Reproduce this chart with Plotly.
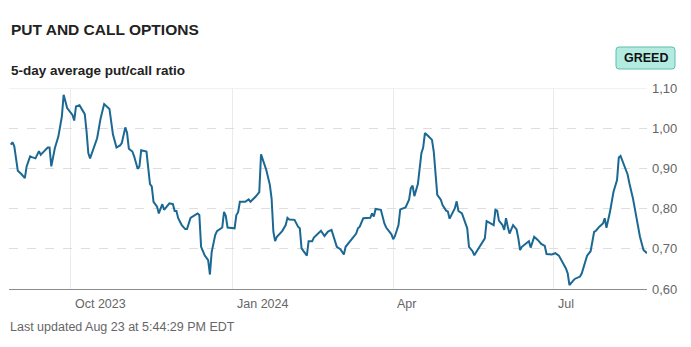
import plotly.graph_objects as go

# 5-day average put/call ratio, Aug 2023 - Aug 2024
dates = [
    "2023-08-28", "2023-08-29", "2023-08-30", "2023-09-01", "2023-09-03", "2023-09-05",
    "2023-09-06", "2023-09-08", "2023-09-09", "2023-09-11", "2023-09-13", "2023-09-14",
    "2023-09-16", "2023-09-18", "2023-09-19", "2023-09-20", "2023-09-22", "2023-09-24",
    "2023-09-26", "2023-09-27", "2023-09-29", "2023-10-02", "2023-10-03", "2023-10-04",
    "2023-10-06", "2023-10-09", "2023-10-10", "2023-10-11", "2023-10-12", "2023-10-16",
    "2023-10-18", "2023-10-20", "2023-10-23", "2023-10-25", "2023-10-27", "2023-10-29",
    "2023-10-30", "2023-11-01", "2023-11-02", "2023-11-03", "2023-11-05", "2023-11-06",
    "2023-11-08", "2023-11-09", "2023-11-10", "2023-11-13", "2023-11-15", "2023-11-16",
    "2023-11-17", "2023-11-19", "2023-11-20", "2023-11-22", "2023-11-23", "2023-11-26",
    "2023-11-28", "2023-11-29", "2023-11-30", "2023-12-01", "2023-12-03", "2023-12-05",
    "2023-12-06", "2023-12-08", "2023-12-12", "2023-12-13", "2023-12-14", "2023-12-16",
    "2023-12-18", "2023-12-19", "2023-12-20", "2023-12-22", "2023-12-23", "2023-12-26",
    "2023-12-27", "2023-12-28", "2023-12-29", "2024-01-02", "2024-01-03", "2024-01-04",
    "2024-01-05", "2024-01-08", "2024-01-10", "2024-01-11", "2024-01-14", "2024-01-16",
    "2024-01-17", "2024-01-20", "2024-01-22", "2024-01-23", "2024-01-24", "2024-01-25",
    "2024-01-26", "2024-01-29", "2024-01-31", "2024-02-01", "2024-02-02", "2024-02-05",
    "2024-02-07", "2024-02-08", "2024-02-09", "2024-02-12", "2024-02-13", "2024-02-15",
    "2024-02-16", "2024-02-19", "2024-02-20", "2024-02-22", "2024-02-24", "2024-02-26",
    "2024-02-28", "2024-02-29", "2024-03-02", "2024-03-04", "2024-03-05", "2024-03-07",
    "2024-03-08", "2024-03-11", "2024-03-12", "2024-03-13", "2024-03-15", "2024-03-18",
    "2024-03-19", "2024-03-20", "2024-03-21", "2024-03-22", "2024-03-25", "2024-03-27",
    "2024-03-28", "2024-03-31", "2024-04-01", "2024-04-02", "2024-04-04", "2024-04-05",
    "2024-04-08", "2024-04-10", "2024-04-11", "2024-04-12", "2024-04-13", "2024-04-15",
    "2024-04-16", "2024-04-17", "2024-04-18", "2024-04-19", "2024-04-21", "2024-04-23",
    "2024-04-24", "2024-04-25", "2024-04-26", "2024-04-28", "2024-04-29", "2024-05-01",
    "2024-05-02", "2024-05-03", "2024-05-04", "2024-05-06", "2024-05-07", "2024-05-08",
    "2024-05-10", "2024-05-11", "2024-05-13", "2024-05-14", "2024-05-16", "2024-05-17",
    "2024-05-19", "2024-05-22", "2024-05-23", "2024-05-24", "2024-05-26", "2024-05-28",
    "2024-05-29", "2024-05-30", "2024-05-31", "2024-06-02", "2024-06-03", "2024-06-04",
    "2024-06-05", "2024-06-06", "2024-06-08", "2024-06-10", "2024-06-11", "2024-06-12",
    "2024-06-13", "2024-06-15", "2024-06-17", "2024-06-18", "2024-06-20", "2024-06-22",
    "2024-06-24", "2024-06-26", "2024-06-27", "2024-06-30", "2024-07-02", "2024-07-04",
    "2024-07-06", "2024-07-08", "2024-07-09", "2024-07-10", "2024-07-12", "2024-07-13",
    "2024-07-16", "2024-07-17", "2024-07-20", "2024-07-21", "2024-07-22", "2024-07-24",
    "2024-07-25", "2024-07-27", "2024-07-29", "2024-07-30", "2024-07-31", "2024-08-02",
    "2024-08-04", "2024-08-06", "2024-08-07", "2024-08-08", "2024-08-10", "2024-08-12",
    "2024-08-13", "2024-08-15", "2024-08-17", "2024-08-19", "2024-08-21", "2024-08-23",
]

ratio = [
    0.959, 0.965, 0.955, 0.894, 0.886, 0.876,
    0.905, 0.930, 0.928, 0.925, 0.943, 0.934,
    0.943, 0.952, 0.952, 0.905, 0.950, 0.979,
    1.029, 1.083, 1.050, 1.033, 1.019, 1.054,
    1.057, 1.035, 0.992, 0.938, 0.925, 0.975,
    1.025, 1.060, 1.048, 0.984, 0.952, 0.957,
    0.963, 1.002, 0.988, 0.949, 0.942, 0.930,
    0.899, 0.905, 0.945, 0.942, 0.861, 0.855,
    0.817, 0.805, 0.788, 0.811, 0.797, 0.813,
    0.811, 0.794, 0.794, 0.776, 0.759, 0.749,
    0.749, 0.777, 0.788, 0.784, 0.705, 0.684,
    0.672, 0.636, 0.692, 0.734, 0.744, 0.753,
    0.792, 0.782, 0.753, 0.751, 0.784, 0.791,
    0.817, 0.817, 0.823, 0.817, 0.830, 0.841,
    0.935, 0.896, 0.859, 0.825, 0.743, 0.719,
    0.730, 0.744, 0.759, 0.777, 0.773, 0.772,
    0.755, 0.751, 0.701, 0.683, 0.719, 0.719,
    0.728, 0.740, 0.745, 0.732, 0.743, 0.747,
    0.720, 0.705, 0.699, 0.686, 0.705, 0.716,
    0.722, 0.738, 0.751, 0.755, 0.776, 0.776,
    0.777, 0.788, 0.780, 0.799, 0.797, 0.763,
    0.753, 0.736, 0.724, 0.732, 0.759, 0.798,
    0.803, 0.822, 0.851, 0.857, 0.831, 0.861,
    0.900, 0.938, 0.952, 0.988, 0.980, 0.971,
    0.942, 0.892, 0.834, 0.822, 0.809, 0.795,
    0.793, 0.775, 0.784, 0.801, 0.818, 0.794,
    0.788, 0.776, 0.751, 0.705, 0.694, 0.684,
    0.697, 0.719, 0.726, 0.769, 0.765, 0.759,
    0.797, 0.795, 0.770, 0.759, 0.747, 0.776,
    0.755, 0.738, 0.759, 0.748, 0.726, 0.697,
    0.705, 0.711, 0.719, 0.703, 0.730, 0.722,
    0.712, 0.707, 0.687, 0.686, 0.689, 0.683,
    0.668, 0.651, 0.639, 0.610, 0.620, 0.625,
    0.631, 0.639, 0.683, 0.689, 0.694, 0.742,
    0.745, 0.755, 0.763, 0.776, 0.752, 0.792,
    0.842, 0.871, 0.927, 0.931, 0.909, 0.885,
    0.863, 0.826, 0.778, 0.730, 0.697, 0.689,
]

x_ticks = ["2023-10-01", "2024-01-01", "2024-04-01", "2024-07-01"]
x_tick_labels = ["Oct 2023", "Jan 2024", "Apr", "Jul"]
y_ticks = [0.60, 0.70, 0.80, 0.90, 1.00, 1.10]

title_text = "PUT AND CALL OPTIONS"
subtitle_text = "5-day average put/call ratio"
updated_text = "Last updated Aug 23 at 5:44:29 PM EDT"
badge_text = "GREED"

W, H = 691, 347
M_L, M_R, M_T, M_B = 9, 44, 88, 58
PLOT_W = W - M_L - M_R
PLOT_H = H - M_T - M_B

FONT = "Liberation Sans, Arial, sans-serif"
LINE_COLOR = "#1b6893"


def px_x(p):
    """Page pixel column -> paper x."""
    return (p - M_L) / PLOT_W


def px_y(p):
    """Page pixel row -> paper y."""
    return 1 - (p - M_T) / PLOT_H


fig = go.Figure()
fig.add_trace(go.Scatter(
    x=dates, y=ratio, mode="lines",
    line=dict(color=LINE_COLOR, width=2),
    hoverinfo="x+y", showlegend=False,
))

annotations = []
# month labels, left-aligned just after each gridline
for tv, tl in zip(x_ticks, x_tick_labels):
    annotations.append(dict(
        x=tv, y=px_y(304), xref="x", yref="paper",
        text=tl, showarrow=False, xanchor="left", yanchor="middle",
        xshift=2, font=dict(family=FONT, size=12.5, color="#666666"),
    ))

annotations += [
    dict(x=px_x(9), y=px_y(29), xref="paper", yref="paper", text=f"<b>{title_text}</b>",
         showarrow=False, xanchor="left", yanchor="middle",
         font=dict(family=FONT, size=15.5, color="#222222")),
    dict(x=px_x(9), y=px_y(70.5), xref="paper", yref="paper", text=f"<b>{subtitle_text}</b>",
         showarrow=False, xanchor="left", yanchor="middle",
         font=dict(family=FONT, size=13.5, color="#222222")),
    dict(x=px_x(8), y=px_y(327), xref="paper", yref="paper", text=updated_text,
         showarrow=False, xanchor="left", yanchor="middle",
         font=dict(family=FONT, size=12.5, color="#666666")),
    dict(x=px_x(645.5), y=px_y(58), xref="paper", yref="paper", text=f"<b>{badge_text}</b>",
         showarrow=False, xanchor="center", yanchor="middle",
         font=dict(family=FONT, size=12.5, color="#111111")),
]

# rounded badge behind the sentiment label
bx0, bx1, by0, by1, r = 616, 675, 47, 69, 3
rx, ry = r / PLOT_W, r / PLOT_H
X0, X1, Y0, Y1 = px_x(bx0), px_x(bx1), px_y(by1), px_y(by0)
badge_path = (
    f"M {X0 + rx},{Y0} L {X1 - rx},{Y0} Q {X1},{Y0} {X1},{Y0 + ry} "
    f"L {X1},{Y1 - ry} Q {X1},{Y1} {X1 - rx},{Y1} L {X0 + rx},{Y1} "
    f"Q {X0},{Y1} {X0},{Y1 - ry} L {X0},{Y0 + ry} Q {X0},{Y0} {X0 + rx},{Y0} Z"
)

shapes = [
    dict(type="path", path=badge_path, xref="paper", yref="paper",
         fillcolor="#b4ebe1", line=dict(color="#5dbfae", width=1), layer="below"),
    # solid top rule
    dict(type="line", xref="paper", yref="y", x0=0, x1=1, y0=1.10, y1=1.10,
         line=dict(color="#e4e4e4", width=1), layer="below"),
]

fig.update_layout(
    width=W, height=H,
    margin=dict(l=M_L, r=M_R, t=M_T, b=M_B, pad=0),
    paper_bgcolor="white", plot_bgcolor="white",
    separators=", ",
    font=dict(family=FONT, color="#666666"),
    annotations=annotations,
    shapes=shapes,
    xaxis=dict(
        type="date", range=["2023-08-27", "2024-08-23"],
        tickvals=x_ticks, showticklabels=False, ticks="",
        showgrid=True, gridcolor="#ebebeb", gridwidth=1,
        showline=True, linecolor="#8c8c8c", linewidth=1,
        zeroline=False, fixedrange=True,
    ),
    yaxis=dict(
        range=[0.60, 1.10], side="right",
        tickvals=y_ticks, tickformat=".2f", ticks="",
        ticklabelstandoff=4,
        tickfont=dict(family=FONT, size=13, color="#666666"),
        showgrid=True, gridcolor="#dedede", griddash="dash", gridwidth=1,
        showline=False, zeroline=False, fixedrange=True,
    ),
)

fig.write_html("out.html")
